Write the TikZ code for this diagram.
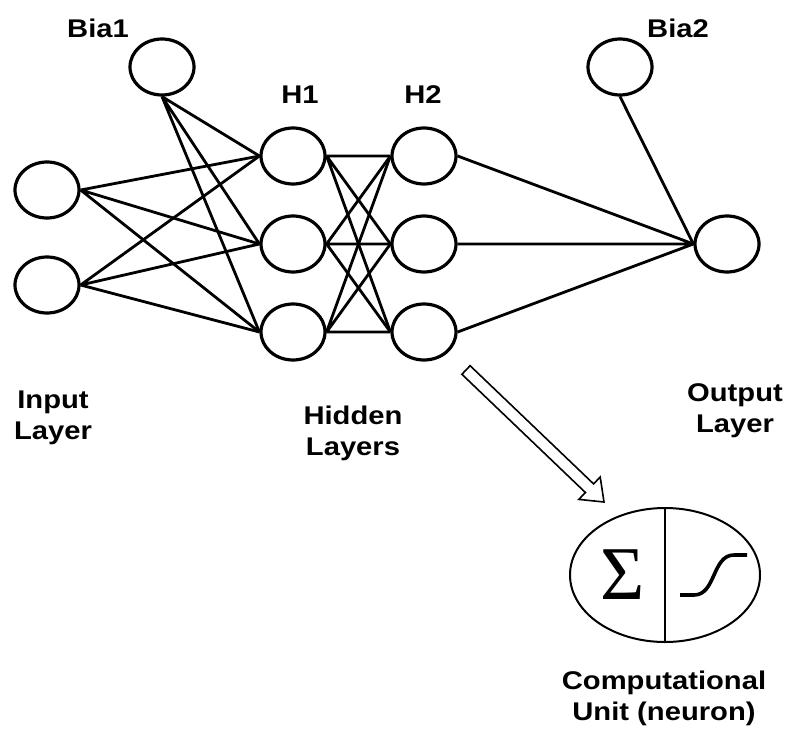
\documentclass[tikz,border=0pt]{standalone}
\usepackage{fontspec}
\newfontfamily\labelfont{Liberation Sans}[FakeStretch=1.14]
\newfontfamily\sumfont{Liberation Serif}
\usepackage{tikz}
\usetikzlibrary{shapes.geometric}

\tikzset{
  unit/.style={draw, ellipse, line width=1.6pt, minimum width=32pt, minimum height=28pt, inner sep=0pt},
  link/.style={line width=1.4pt},
  caption/.style={font=\labelfont\bfseries\fontsize{12.8}{15.5}\selectfont, align=center, inner sep=0pt}
}

\begin{document}
\begin{tikzpicture}[x=0.5pt, y=-0.5pt]
        \useasboundingbox (0,0) rectangle (786,733);

        % Input layer
        \node [unit] (in1) at (47,190) {};
        \node [unit] (in2) at (47,285) {};
        \node [unit] (bia1) at (162,67) {};

        % Hidden layers
        \node [unit] (h11) at (293,156) {};
        \node [unit] (h12) at (293,244) {};
        \node [unit] (h13) at (293,332) {};
        \node [unit] (h21) at (424,156) {};
        \node [unit] (h22) at (424,244) {};
        \node [unit] (h23) at (424,332) {};

        % Output layer
        \node [unit] (bia2) at (620,67) {};
        \node [unit] (out) at (727,244) {};

        % Links into H1
        \draw [link] (in1.east) -- (h11.west) (in1.east) -- (h12.west) (in1.east) -- (h13.west);
        \draw [link] (in2.east) -- (h11.west) (in2.east) -- (h12.west) (in2.east) -- (h13.west);
        \draw [link] (bia1.south) -- (h11.west) (bia1.south) -- (h12.west) (bia1.south) -- (h13.west);

        % Links H1 to H2
        \draw [link] (h11.east) -- (h21.west) (h11.east) -- (h22.west) (h11.east) -- (h23.west);
        \draw [link] (h12.east) -- (h21.west) (h12.east) -- (h22.west) (h12.east) -- (h23.west);
        \draw [link] (h13.east) -- (h21.west) (h13.east) -- (h22.west) (h13.east) -- (h23.west);

        % Links into output
        \draw [link] (h21.east) -- (out.west) (h22.east) -- (out.west) (h23.east) -- (out.west);
        \draw [link] (bia2.south) -- (out.west);

        % Labels
        \node [caption] (lbia1) at (98,28) {Bia1};
        \node [caption] (lh1) at (300,95) {H1};
        \node [caption] (lh2) at (423,95) {H2};
        \node [caption] (lbia2) at (678,28) {Bia2};
        \node [caption] (linput) at (53,418) {Input\\Layer};
        \node [caption] (lhidden) at (353,433) {Hidden\\Layers};
        \node [caption] (loutput) at (735,411) {Output\\Layer};
        \node [caption] (lunit) at (664,698) {Computational\\Unit (neuron)};

        % Zoom arrow (hollow)
        \draw [line width=0.8pt, line join=miter, fill=white]
            (470.1,365.7) -- (593.6,483.9) -- (600.2,477.0) -- (604,502)
            -- (578.8,499.4) -- (585.4,492.5) -- (461.9,374.3) -- cycle;

        % Neuron
        \node [draw, ellipse, line width=1pt, minimum width=95pt, minimum height=67pt, inner sep=0pt] (neuron) at (665,575) {};
        \draw [line width=1pt] (neuron.north) -- (neuron.south);
        \node [inner sep=0pt] (sum) at (623,575) {\sumfont\fontsize{38}{42}\selectfont Σ};
        \draw [line width=1.8pt] (680,595) -- (694,595) .. controls (716,595) and (712,555) .. (734,555) -- (747,555);
    \end{tikzpicture}
\end{document}
